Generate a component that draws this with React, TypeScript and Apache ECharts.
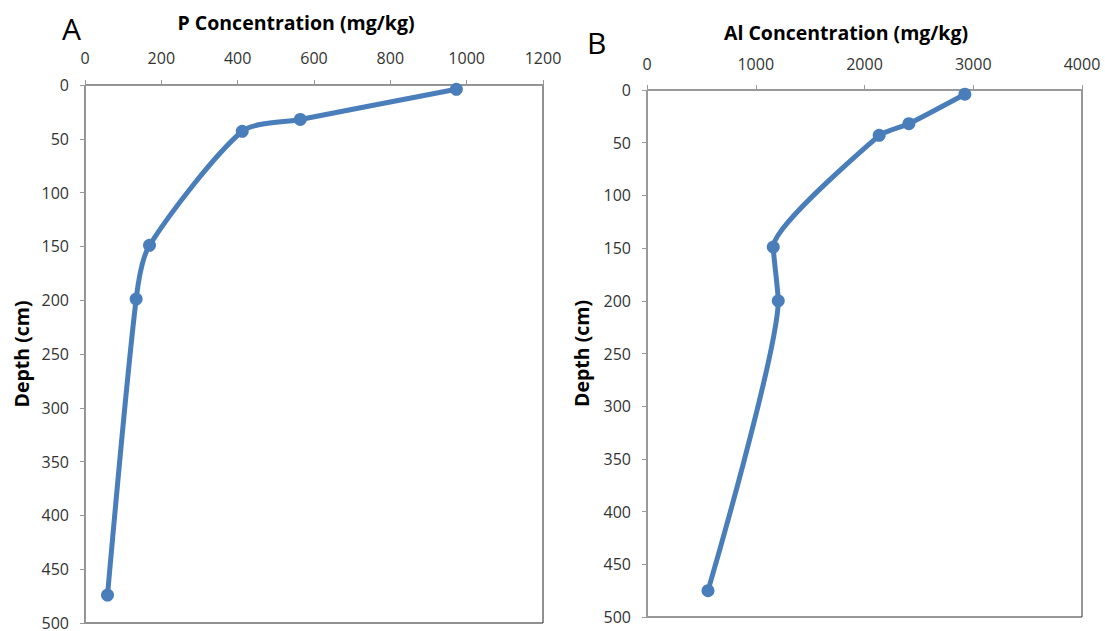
import React, { useEffect, useRef } from "react";
import * as echarts from "echarts";

const depthP = [4, 32, 43, 149, 199, 474];
const pConc = [973, 564, 412, 169, 134, 59];
const depthAl = [4, 32, 43, 149, 200, 475];
const alConc = [2923, 2408, 2135, 1161, 1207, 561];

const pTicks = { min: 0, max: 1200, interval: 200 };
const alTicks = { min: 0, max: 4000, interval: 1000 };
const depthTicks = { min: 0, max: 500, interval: 50 };

const FONT = "'Open Sans', 'Noto Sans', sans-serif";
const LINE = "#4a7ebb";

export default function App() {
  const ref = useRef<HTMLDivElement>(null);
  useEffect(() => {
    document.body.style.margin = "0";
    const chart = echarts.init(ref.current!, null, { renderer: "svg" });
    const xAxisBase = (t: any, margin: number) => ({
      type: "value",
      position: "top",
      min: t.min,
      max: t.max,
      interval: t.interval,
      axisLine: { show: true, lineStyle: { color: "#999", width: 1 } },
      axisTick: { show: true, inside: false, length: 5, lineStyle: { color: "#999" } },
      axisLabel: { fontFamily: FONT, fontSize: 16, color: "#333", margin, formatter: (v: number) => String(v) },
      splitLine: { show: false },
    });
    const yAxisBase = (t: any, gap: number) => ({
      type: "value",
      inverse: true,
      min: t.min,
      max: t.max,
      interval: t.interval,
      name: "Depth (cm)",
      nameLocation: "middle",
      nameGap: gap,
      nameRotate: 90,
      nameTextStyle: { fontFamily: FONT, fontSize: 19.5, fontWeight: "bold", color: "#000" },
      axisLine: { show: true, lineStyle: { color: "#999", width: 1 } },
      axisTick: { show: true, inside: false, length: 5, lineStyle: { color: "#999" } },
      axisLabel: { fontFamily: FONT, fontSize: 16, color: "#333", margin: 16, formatter: (v: number) => String(v) },
      splitLine: { show: false },
    });
    const seriesBase = (xs: number[], ys: number[], idx: number, smooth: number) => ({
      type: "line",
      xAxisIndex: idx,
      yAxisIndex: idx,
      data: xs.map((x, i) => [x, ys[i]]),
      smooth,
      symbol: "circle",
      symbolSize: 13,
      lineStyle: { color: LINE, width: 5 },
      itemStyle: { color: LINE },
    });
    const titleStyle = { fontFamily: FONT, fontSize: 19.5, fontWeight: "bold", fill: "#000", align: "center", verticalAlign: "middle" };
    chart.setOption({
      animation: false,
      grid: [
        { left: 85, top: 85, width: 458, height: 542, show: true, borderColor: "#222", borderWidth: 1, backgroundColor: "transparent" },
        { left: 647, top: 90, width: 435, height: 527, show: true, borderColor: "#333", borderWidth: 1, backgroundColor: "transparent" },
      ],
      xAxis: [
        { ...xAxisBase(pTicks, 19), gridIndex: 0 },
        { ...xAxisBase(alTicks, 18), gridIndex: 1 },
      ],
      yAxis: [
        { ...yAxisBase(depthTicks, 54), gridIndex: 0 },
        { ...yAxisBase(depthTicks, 56), gridIndex: 1 },
      ],
      series: [seriesBase(pConc, depthP, 0, 0.25), seriesBase(alConc, depthAl, 1, 0.17)],
      graphic: [
        { type: "text", x: 296, y: 22, style: { ...titleStyle, text: "P Concentration (mg/kg)" } },
        { type: "text", x: 846, y: 32, style: { ...titleStyle, text: "Al Concentration (mg/kg)" } },
        { type: "text", left: 62, top: 13, style: { text: "A", fontFamily: FONT, fontSize: 30, fill: "#000" } },
        { type: "text", left: 587, top: 27, style: { text: "B", fontFamily: FONT, fontSize: 30, fill: "#000" } },
      ],
    });
    return () => chart.dispose();
  }, []);
  return <div ref={ref} style={{ width: 1105, height: 631 }} />;
}
